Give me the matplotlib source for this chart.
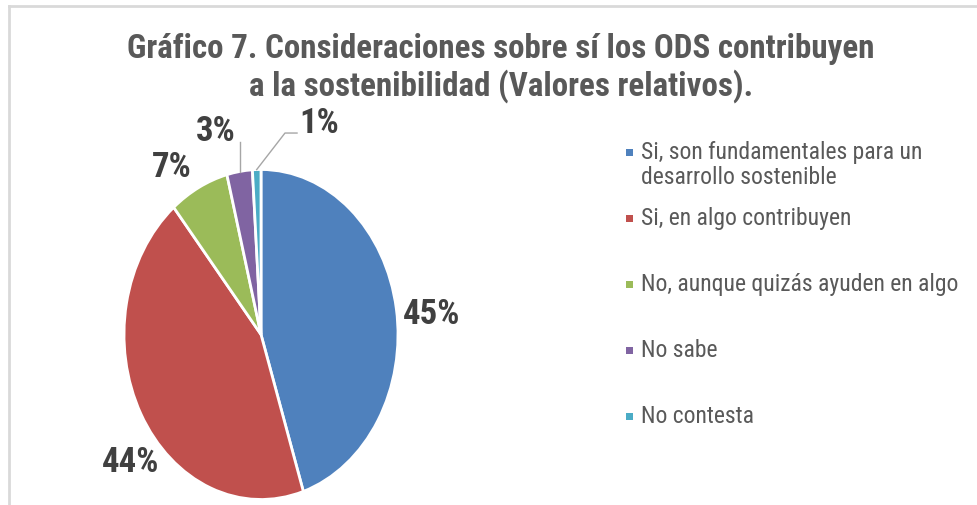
import numpy as np
import matplotlib
matplotlib.use("Agg")
import matplotlib.pyplot as plt
from matplotlib.patches import Rectangle
from matplotlib.lines import Line2D

# ---------------- DATA ----------------
categories = ["Si, son fundamentales para un\ndesarrollo sostenible",
              "Si, en algo contribuyen",
              "No, aunque quizás ayuden en algo",
              "No sabe",
              "No contesta"]
values = [45, 44, 7, 3, 1]
colors = ["#4F81BD", "#C0504D", "#9BBB59", "#8064A2", "#4BACC6"]
title_lines = ["Gráfico 7. Consideraciones sobre sí los ODS contribuyen",
               "a la sostenibilidad (Valores relativos)."]

# label placement (radius, angle in deg) in the unit-pie frame
label_pos = [(1.25, 5.8), (1.225, 219.0), (1.21, 122.5), (1.28, 104.9), (1.353, 71.8)]

plt.rcParams["font.family"] = ["Roboto Condensed", "Liberation Sans", "DejaVu Sans"]

W, H = 978, 506
fig = plt.figure(figsize=(W / 100, H / 100), dpi=100)

def fx(px):
    return px / W

def fy(py):
    return 1 - py / H

# frame lines
fig.add_artist(Line2D([fx(9), 1], [fy(7), fy(7)], color="#D9D9D9", lw=2))
fig.add_artist(Line2D([fx(9), fx(9)], [fy(7), 0], color="#D9D9D9", lw=2))

# title
fig.text(fx(501), fy(58), title_lines[0], ha="center", va="baseline",
         fontsize=23.8, fontweight="bold", color="#595959")
fig.text(fx(501), fy(96), title_lines[1], ha="center", va="baseline",
         fontsize=23.8, fontweight="bold", color="#595959")

# pie (elliptical, as in the source)
cx, cy, rx, ry = 261, 335.5, 137, 165
ax = fig.add_axes([fx(cx - rx), fy(cy + ry), 2 * rx / W, 2 * ry / H])
wedges, _ = ax.pie(values, colors=colors, startangle=90, counterclock=False,
                   wedgeprops=dict(edgecolor="white", linewidth=2))
ax.set_aspect("auto")
ax.set_xlim(-1, 1)
ax.set_ylim(-1, 1)
ax.axis("off")
for w in wedges:
    w.set_clip_on(False)

for i, v in enumerate(values):
    r, a = label_pos[i]
    x, y = r * np.cos(np.deg2rad(a)), r * np.sin(np.deg2rad(a))
    ax.text(x, y, f"{v}%", ha="center", va="center", fontsize=25,
            fontweight="bold", color="#404040", clip_on=False)

# leader lines for the small slices
def mid_angle(w):
    return np.deg2rad((w.theta1 + w.theta2) / 2)

m3 = mid_angle(wedges[3])
ax.plot([np.cos(m3), np.cos(m3)], [np.sin(m3), 1.167], color="#A6A6A6", lw=1, clip_on=False)
m1 = mid_angle(wedges[4])
ax.plot([np.cos(m1), 0.175, 0.263], [np.sin(m1), 1.221, 1.221], color="#A6A6A6", lw=1, clip_on=False)

# legend
leg_y0, leg_dy = 153, 66
for i, lab in enumerate(categories):
    yc = leg_y0 + leg_dy * i
    fig.add_artist(Rectangle((fx(626), fy(yc + 3.5)), 7 / W, 7 / H,
                             transform=fig.transFigure, color=colors[i], lw=0))
    fig.text(fx(641), fy(yc - 12), lab, ha="left", va="top", fontsize=17,
             color="#595959", linespacing=1.1)

fig.savefig("out.png", dpi=100)
